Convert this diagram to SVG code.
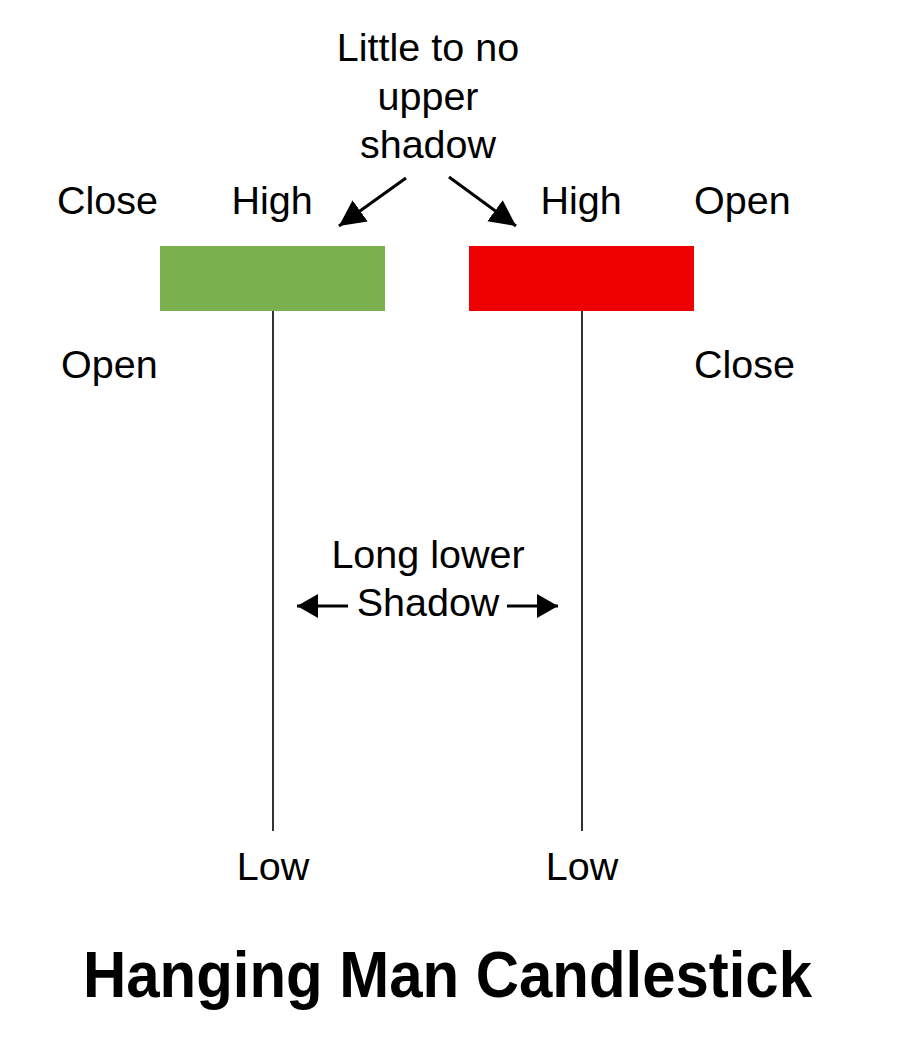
<svg xmlns="http://www.w3.org/2000/svg" width="900" height="1058" viewBox="0 0 900 1058">
<style>
.t{font-family:"Liberation Sans",Arial,sans-serif;font-size:39.5px;fill:#000}
.c{text-anchor:middle}
.wick{stroke:#000;stroke-width:1.6}
.arr{stroke:#000;stroke-width:3;fill:none}
</style>
<defs>
<marker id="ah" markerUnits="userSpaceOnUse" markerWidth="32" markerHeight="32" refX="26" refY="13" orient="auto">
<polygon points="0,0 26,13 0,26" fill="#000"/>
</marker>
<marker id="ahs" markerUnits="userSpaceOnUse" markerWidth="30" markerHeight="30" refX="21" refY="12" orient="auto">
<polygon points="0,0 21,12 0,24" fill="#000"/>
</marker>
</defs>
<rect width="900" height="1058" fill="#fff"/>
<g id="green-candle">
<line class="wick" x1="273" y1="311" x2="273" y2="831"/>
<rect x="160" y="246" width="225" height="65" fill="#7BB04F"/>
<text class="t" x="57" y="214">Close</text>
<text class="t c" x="272" y="214">High</text>
<text class="t" x="61" y="378">Open</text>
<text class="t c" x="273" y="880">Low</text>
</g>
<g id="red-candle">
<line class="wick" x1="582" y1="311" x2="582" y2="831"/>
<rect x="469" y="246" width="225" height="65" fill="#EE0000"/>
<text class="t c" x="581" y="214">High</text>
<text class="t" x="694" y="214">Open</text>
<text class="t" x="694" y="378">Close</text>
<text class="t c" x="582" y="880">Low</text>
</g>
<g id="upper-label">
<text class="t c" x="428" y="61">Little to no</text>
<text class="t c" x="428" y="110">upper</text>
<text class="t c" x="428" y="158">shadow</text>
</g>
<g id="lower-label">
<text class="t c" x="428" y="568">Long lower</text>
<text class="t c" x="428" y="616">Shadow</text>
</g>
<g id="connectors">
<line class="arr" x1="406" y1="178" x2="339" y2="226" marker-end="url(#ah)"/>
<line class="arr" x1="449" y1="177" x2="516" y2="226" marker-end="url(#ah)"/>
<line class="arr" x1="348" y1="606" x2="297" y2="606" marker-end="url(#ahs)"/>
<line class="arr" x1="507" y1="606" x2="558" y2="606" marker-end="url(#ahs)"/>
</g>
<g id="title">
<text x="83" y="997" font-family="'Liberation Sans',Arial,sans-serif" font-weight="bold" font-size="65" textLength="729" lengthAdjust="spacingAndGlyphs">Hanging Man Candlestick</text>
</g>
</svg>
